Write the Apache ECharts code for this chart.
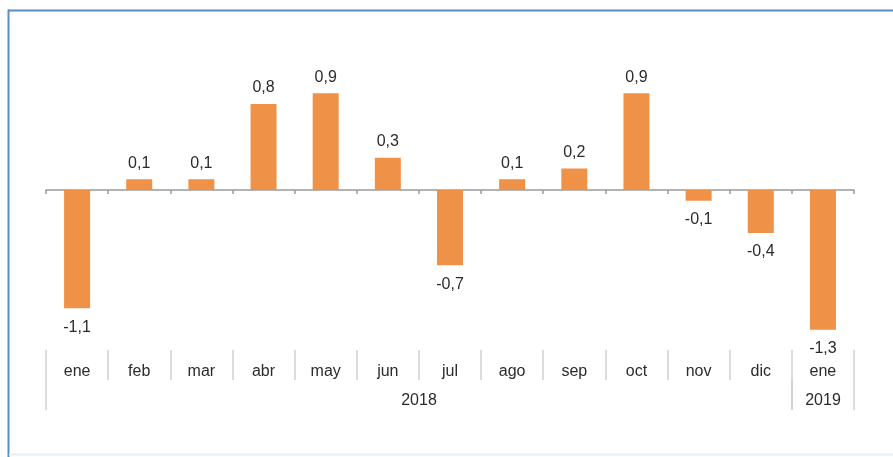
<!DOCTYPE html>
<html>
<head>
<meta charset="utf-8">
<script src="https://cdn.jsdelivr.net/npm/echarts@6/dist/echarts.min.js"></script>
<style>
  html, body { margin: 0; padding: 0; background: #fff; }
  #chart { width: 893px; height: 457px; }
</style>
</head>
<body>
<div id="chart"></div>
<script>
// datos: variación mensual
var meses = ["ene", "feb", "mar", "abr", "may", "jun", "jul", "ago", "sep", "oct", "nov", "dic", "ene"];
var valores = [-1.1, 0.1, 0.1, 0.8, 0.9, 0.3, -0.7, 0.1, 0.2, 0.9, -0.1, -0.4, -1.3];
var anio1 = ["2018"];
var anio2 = ["2019"];

var naranja = "#EF9147";
var gris = "#CFCFCF";
var texto = "#2b2b2b";
var fuente = "Liberation Sans, Arial, sans-serif";

var chart = echarts.init(document.getElementById("chart"));

// cada barra con su etiqueta arriba o abajo segun el signo
var barras = valores.map(function (v) {
  return {
    value: v,
    label: {
      position: v < 0 ? "bottom" : "top",
      distance: v < 0 ? 11 : 8
    }
  };
});

var option = {
  animation: false,
  backgroundColor: "#fff",
  grid: [
    { left: 46, right: 39, top: 82.5, bottom: 116.5 },
    { left: 46, right: 39, top: 350, height: 30 },
    { left: 46, width: 746, top: 380, height: 30 },
    { left: 792, width: 62, top: 380, height: 30 }
  ],
  xAxis: [
    {
      gridIndex: 0,
      type: "category",
      data: meses,
      axisLine: { onZero: true, lineStyle: { color: "#9a9a9a", width: 1.5 } },
      axisTick: { show: true, length: 4, lineStyle: { color: "#9a9a9a", width: 1.5 } },
      axisLabel: { show: false }
    },
    {
      gridIndex: 1,
      type: "category",
      data: meses,
      axisLine: { show: false },
      axisTick: { show: false },
      splitLine: { show: true, lineStyle: { color: gris, width: 1.5 } },
      axisLabel: {
        margin: -8,
        verticalAlign: "middle",
        color: texto,
        fontSize: 16,
        fontFamily: fuente
      }
    },
    {
      gridIndex: 2,
      type: "category",
      data: anio1,
      axisLine: { show: false },
      axisTick: { show: false },
      splitLine: { show: true, lineStyle: { color: gris, width: 1.5 } },
      axisLabel: {
        margin: -9,
        verticalAlign: "middle",
        color: texto,
        fontSize: 16,
        fontFamily: fuente
      }
    },
    {
      gridIndex: 3,
      type: "category",
      data: anio2,
      axisLine: { show: false },
      axisTick: { show: false },
      splitLine: { show: true, lineStyle: { color: gris, width: 1.5 } },
      axisLabel: {
        margin: -9,
        verticalAlign: "middle",
        color: texto,
        fontSize: 16,
        fontFamily: fuente
      }
    }
  ],
  yAxis: [
    { gridIndex: 0, type: "value", min: -1.4, max: 1.0, show: false, splitLine: { show: false } },
    { gridIndex: 1, type: "value", show: false, splitLine: { show: false } },
    { gridIndex: 2, type: "value", show: false, splitLine: { show: false } },
    { gridIndex: 3, type: "value", show: false, splitLine: { show: false } }
  ],
  graphic: [
    // marco azul
    { type: "line", shape: { x1: 8.5, y1: 9.5, x2: 8.5, y2: 457 }, style: { stroke: "#5B8BC8", lineWidth: 2 } },
    { type: "line", shape: { x1: 8, y1: 10.5, x2: 893, y2: 10.5 }, style: { stroke: "#5B8BC8", lineWidth: 2 } },
    { type: "line", shape: { x1: 9, y1: 454.5, x2: 893, y2: 454.5 }, style: { stroke: "#DDF1F6", lineWidth: 2 } }
  ],
  series: [
    {
      type: "bar",
      xAxisIndex: 0,
      yAxisIndex: 0,
      data: barras,
      barWidth: 26,
      itemStyle: { color: naranja },
      label: {
        show: true,
        color: texto,
        fontSize: 16,
        fontFamily: fuente,
        formatter: function (p) {
          return String(p.value).replace(".", ",");
        }
      }
    }
  ]
};

chart.setOption(option);
</script>
</body>
</html>
